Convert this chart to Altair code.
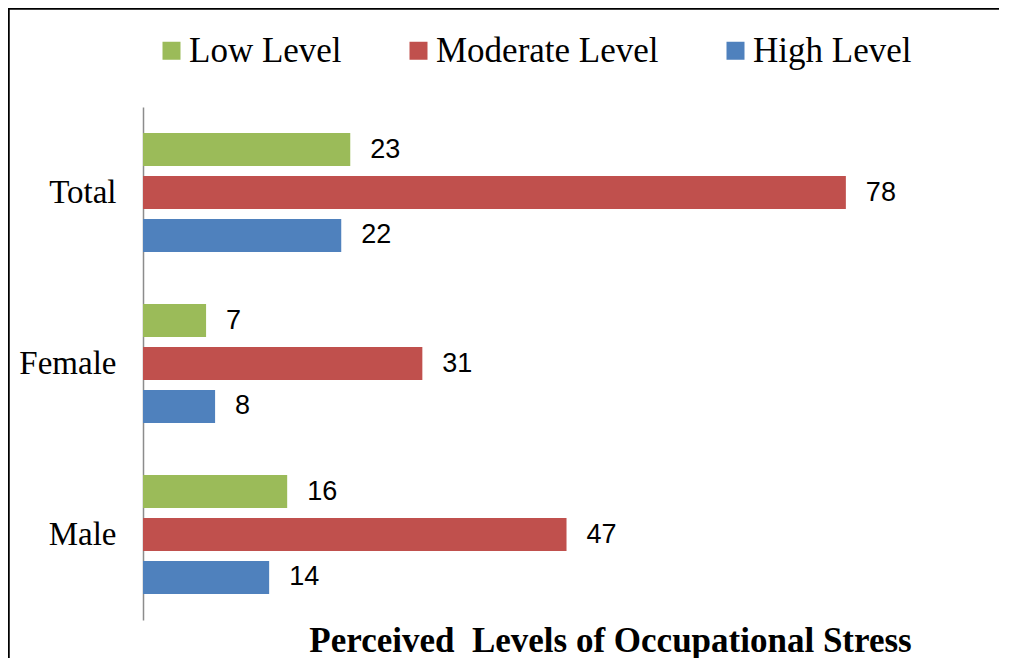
import altair as alt
import pandas as pd

groups = ["Total", "Female", "Male"]
levels = ["Low Level", "Moderate Level", "High Level"]
low_values = [23, 7, 16]
moderate_values = [78, 31, 47]
high_values = [22, 8, 14]
colors = ["#9BBB59", "#C0504D", "#4F81BD"]
title_text = "Perceived\u00a0 Levels of Occupational Stress"

rows = []
for lvl, vals in zip(levels, [low_values, moderate_values, high_values]):
    for g, v in zip(groups, vals):
        rows.append({"group": g, "level": lvl, "value": v})
df = pd.DataFrame(rows)

x_axis = alt.Axis(
    labels=False, ticks=False, domain=False, grid=False,
    title=title_text, titleFont="Liberation Serif", titleFontSize=35,
    titleFontWeight="bold", titleColor="black",
    titleX=467, titleY=31, titleAlign="center", titleBaseline="alphabetic",
)
x_enc = alt.X("value:Q", scale=alt.Scale(domain=[0, 90]), axis=x_axis, title=title_text)

base = alt.Chart(df).encode(
    y=alt.Y(
        "group:N",
        sort=groups,
        scale=alt.Scale(paddingInner=0, paddingOuter=0),
        axis=alt.Axis(
            title=None, ticks=False, grid=False,
            labelFont="Liberation Serif", labelFontSize=33, labelColor="black",
            labelPadding=27, domainColor="#8c8c8c", domainWidth=1.5,
        ),
    ),
    yOffset=alt.YOffset(
        "level:N", sort=levels,
        scale=alt.Scale(paddingInner=0.2326, paddingOuter=0.605),
    ),
)

bars = base.mark_bar().encode(
    x=x_enc,
    color=alt.Color(
        "level:N", sort=levels,
        scale=alt.Scale(domain=levels, range=colors),
        legend=alt.Legend(
            orient="none", legendX=11, legendY=-74, direction="horizontal",
            title=None, symbolType="square", symbolSize=324, symbolStrokeWidth=0,
            labelFont="Liberation Serif", labelFontSize=35, labelColor="black",
            labelOffset=0, columnPadding=59, labelLimit=400,
        ),
    ),
)

labels = base.mark_text(
    align="left", baseline="middle", dx=20,
    font="Liberation Sans", fontSize=27, color="black",
).encode(x=x_enc, text=alt.Text("value:Q"))

frame_df = pd.DataFrame({"k": [0]})
top_line = alt.Chart(frame_df).mark_rule(color="black", strokeWidth=2.5).encode(
    x=alt.value(-135), x2=alt.value(856), y=alt.value(-98.5)
)
left_line = alt.Chart(frame_df).mark_rule(color="black", strokeWidth=2.5).encode(
    x=alt.value(-134.5), y=alt.value(-99), y2=alt.value(551)
)

chart = (
    alt.layer(bars, labels, top_line, left_line)
    .properties(
        width=811, height=513,
        autosize=alt.AutoSizeParams(type="none"),
        padding={"left": 135, "top": 99, "right": 45, "bottom": 38},
    )
    .configure_view(stroke=None)
)

chart.save("out.html", embed_options={"renderer": "svg", "actions": False})
